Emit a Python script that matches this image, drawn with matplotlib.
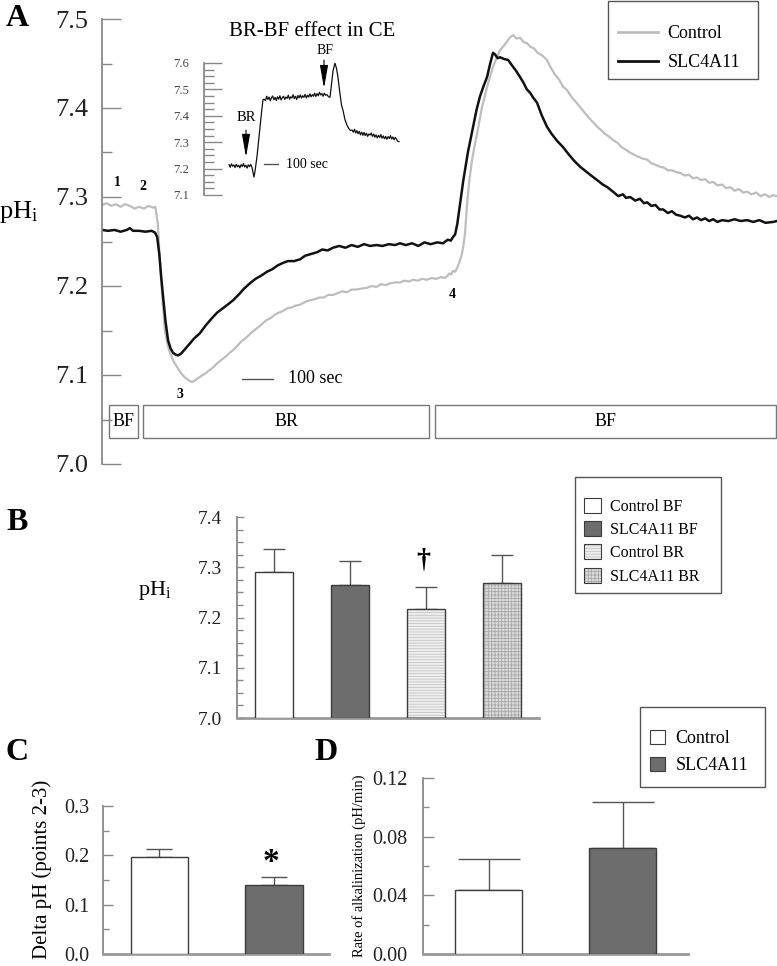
import numpy as np
import matplotlib
matplotlib.use("Agg")
import matplotlib.pyplot as plt
from matplotlib.patches import Rectangle, Patch
from matplotlib.lines import Line2D
from matplotlib.legend_handler import HandlerTuple
from matplotlib.ticker import MultipleLocator, FormatStrFormatter

plt.rcParams["font.family"] = "Liberation Serif"
plt.rcParams["mathtext.fontset"] = "custom"
plt.rcParams["mathtext.rm"] = "Liberation Serif"
plt.rcParams["mathtext.it"] = "Liberation Serif:italic"
plt.rcParams["hatch.linewidth"] = 0.6

W, H = 777, 966

# ---- panel A : pHi traces (time in s) ----
ctrl_t = [0, 15, 30, 45, 60, 75, 90, 105, 120, 135, 150, 165, 172, 180, 188, 196, 203, 211, 219, 230,
          242, 255, 268, 280, 290, 300, 316, 330, 345, 360, 371, 385, 400, 412, 423, 437, 450, 465, 477,
          490, 505, 518, 532, 545, 558, 570, 584, 598, 612, 625, 639, 655, 670, 685, 700, 715, 730, 745,
          760, 775, 790, 805, 820, 835, 855, 870, 885, 900, 915, 930, 945, 961, 975, 990, 1003, 1018,
          1033, 1048, 1063, 1078, 1093, 1105, 1113, 1120, 1126, 1132, 1139, 1145, 1152, 1160, 1166, 1171,
          1177, 1185, 1195, 1210, 1225, 1242, 1252, 1261, 1272, 1284, 1296, 1305, 1315, 1326, 1337, 1348,
          1360, 1370, 1381, 1393, 1405, 1420, 1435, 1448, 1460, 1474, 1487, 1500, 1515, 1528, 1542, 1556,
          1570, 1584, 1597, 1610, 1622, 1635, 1648, 1662, 1676, 1690, 1703, 1718, 1732, 1745, 1758, 1772,
          1786, 1800, 1812, 1825, 1838, 1852, 1865, 1880, 1893, 1906, 1919, 1932, 1945, 1958, 1971, 1985,
          2000, 2013, 2027, 2040, 2054, 2068, 2081, 2095, 2110, 2124, 2138, 2152, 2165, 2177]
ctrl_ph = [7.291, 7.293, 7.290, 7.292, 7.289, 7.292, 7.290, 7.287, 7.289, 7.287, 7.290, 7.288, 7.289,
           7.270, 7.220, 7.180, 7.150, 7.135, 7.125, 7.116, 7.109, 7.102, 7.097, 7.094, 7.092, 7.094,
           7.098, 7.101, 7.105, 7.109, 7.113, 7.117, 7.121, 7.125, 7.128, 7.133, 7.138, 7.142, 7.146,
           7.150, 7.154, 7.158, 7.162, 7.164, 7.168, 7.170, 7.172, 7.175, 7.176, 7.178, 7.179, 7.182,
           7.184, 7.185, 7.187, 7.187, 7.190, 7.190, 7.192, 7.194, 7.193, 7.196, 7.196, 7.197, 7.198,
           7.200, 7.199, 7.202, 7.201, 7.203, 7.204, 7.204, 7.206, 7.205, 7.207, 7.206, 7.208, 7.207,
           7.209, 7.208, 7.210, 7.209, 7.211, 7.214, 7.213, 7.217, 7.216, 7.220, 7.226, 7.235, 7.246,
           7.260, 7.290, 7.320, 7.345, 7.372, 7.400, 7.424, 7.436, 7.446, 7.456, 7.465, 7.470, 7.474,
           7.479, 7.482, 7.478, 7.479, 7.474, 7.473, 7.469, 7.467, 7.462, 7.459, 7.454, 7.445, 7.438,
           7.432, 7.424, 7.420, 7.412, 7.407, 7.401, 7.395, 7.389, 7.384, 7.379, 7.375, 7.371, 7.368,
           7.364, 7.361, 7.356, 7.353, 7.350, 7.347, 7.345, 7.343, 7.342, 7.338, 7.336, 7.334, 7.333,
           7.330, 7.330, 7.328, 7.327, 7.324, 7.325, 7.321, 7.322, 7.319, 7.320, 7.316, 7.317, 7.313,
           7.314, 7.310, 7.311, 7.307, 7.309, 7.305, 7.306, 7.303, 7.305, 7.301, 7.303, 7.300, 7.302,
           7.301]

slc_t = [0, 20, 40, 60, 80, 90, 100, 120, 140, 160, 171, 178, 185, 191, 197, 205, 213, 221, 229, 237,
         245, 255, 265, 280, 297, 316, 335, 355, 371, 390, 405, 423, 440, 458, 477, 495, 515, 532, 550,
         566, 584, 600, 620, 639, 655, 675, 694, 710, 728, 745, 765, 785, 805, 825, 845, 865, 885, 905,
         925, 945, 961, 980, 1000, 1020, 1040, 1060, 1081, 1100, 1115, 1125, 1132, 1139, 1146, 1152,
         1158, 1165, 1180, 1197, 1208, 1219, 1230, 1242, 1252, 1261, 1268, 1276, 1284, 1297, 1310, 1322,
         1335, 1348, 1360, 1370, 1381, 1392, 1403, 1418, 1435, 1450, 1468, 1487, 1505, 1522, 1542, 1560,
         1578, 1597, 1615, 1630, 1648, 1665, 1680, 1690, 1703, 1720, 1735, 1748, 1758, 1772, 1785, 1798,
         1810, 1825, 1838, 1852, 1865, 1880, 1893, 1906, 1919, 1932, 1945, 1958, 1971, 1985, 2000, 2020,
         2040, 2060, 2081, 2100, 2120, 2140, 2165, 2177]
slc_ph = [7.263, 7.262, 7.263, 7.261, 7.263, 7.265, 7.262, 7.262, 7.261, 7.262, 7.260, 7.255, 7.235,
          7.210, 7.188, 7.160, 7.139, 7.130, 7.125, 7.123, 7.122, 7.124, 7.128, 7.134, 7.141, 7.147,
          7.156, 7.164, 7.170, 7.175, 7.179, 7.184, 7.190, 7.197, 7.203, 7.208, 7.212, 7.216, 7.219,
          7.223, 7.226, 7.228, 7.228, 7.230, 7.234, 7.236, 7.238, 7.241, 7.240, 7.243, 7.245, 7.243,
          7.246, 7.244, 7.247, 7.245, 7.246, 7.245, 7.247, 7.246, 7.248, 7.246, 7.248, 7.245, 7.249,
          7.247, 7.249, 7.248, 7.252, 7.251, 7.255, 7.258, 7.270, 7.285, 7.300, 7.318, 7.350, 7.379,
          7.398, 7.413, 7.424, 7.435, 7.450, 7.462, 7.460, 7.456, 7.457, 7.455, 7.454, 7.448, 7.442,
          7.435, 7.428, 7.421, 7.417, 7.411, 7.406, 7.392, 7.379, 7.371, 7.363, 7.356, 7.348, 7.341,
          7.334, 7.329, 7.324, 7.319, 7.314, 7.311, 7.306, 7.301, 7.303, 7.299, 7.300, 7.296, 7.298,
          7.293, 7.294, 7.290, 7.291, 7.286, 7.286, 7.282, 7.284, 7.280, 7.279, 7.277, 7.279, 7.275,
          7.277, 7.274, 7.276, 7.273, 7.275, 7.272, 7.274, 7.273, 7.275, 7.273, 7.274, 7.272, 7.274,
          7.271, 7.272, 7.273]

# solution periods under the traces (start, end, label)
periods = [(23, 116, "BF"), (132, 1055, "BR"), (1074, 2174, "BF")]

# ---- inset : BR-BF effect in CE ----
ce_t = [167, 175, 183, 191, 199, 207, 215, 223, 231, 239, 247, 255, 263, 271, 279, 287, 295, 303, 311,
        320, 327, 333, 340, 353, 363, 373, 383, 393, 400, 410, 418, 426, 434, 442, 450, 458, 466, 474,
        482, 490, 498, 506, 514, 522, 530, 538, 546, 554, 562, 570, 578, 586, 594, 602, 610, 618, 626,
        634, 642, 650, 658, 666, 674, 682, 690, 698, 706, 714, 722, 730, 738, 746, 754, 762, 770, 778,
        786, 794, 802, 810, 820, 830, 840, 850, 860, 873, 883, 893, 905, 917, 927, 940, 953, 965, 975,
        987, 995, 1003, 1011, 1019, 1027, 1035, 1043, 1051, 1059, 1067, 1075, 1083, 1091, 1099, 1107,
        1115, 1123, 1131, 1139, 1147, 1155, 1163, 1171, 1179, 1187, 1195, 1203, 1211, 1219, 1227, 1235,
        1243, 1251, 1259, 1267, 1275, 1283, 1291, 1300]
ce_ph = [7.215, 7.205, 7.218, 7.209, 7.214, 7.204, 7.216, 7.207, 7.213, 7.203, 7.215, 7.208, 7.219,
         7.206, 7.213, 7.202, 7.214, 7.207, 7.216, 7.205, 7.185, 7.168, 7.190, 7.244, 7.300, 7.358,
         7.410, 7.460, 7.463, 7.458, 7.474, 7.462, 7.471, 7.457, 7.469, 7.475, 7.461, 7.470, 7.458,
         7.472, 7.463, 7.476, 7.460, 7.469, 7.474, 7.462, 7.471, 7.466, 7.478, 7.463, 7.472, 7.467,
         7.480, 7.465, 7.474, 7.462, 7.477, 7.468, 7.479, 7.467, 7.476, 7.470, 7.481, 7.468, 7.478,
         7.471, 7.483, 7.472, 7.480, 7.474, 7.486, 7.473, 7.484, 7.476, 7.489, 7.479, 7.484, 7.474,
         7.486, 7.478, 7.480, 7.472, 7.470, 7.520, 7.570, 7.600, 7.580, 7.547, 7.490, 7.440, 7.420,
         7.385, 7.365, 7.352, 7.345, 7.346, 7.338, 7.349, 7.335, 7.344, 7.332, 7.341, 7.328, 7.338,
         7.326, 7.337, 7.325, 7.334, 7.322, 7.331, 7.327, 7.335, 7.322, 7.331, 7.319, 7.328, 7.316,
         7.326, 7.318, 7.329, 7.315, 7.324, 7.313, 7.322, 7.311, 7.321, 7.314, 7.325, 7.312, 7.320,
         7.309, 7.318, 7.312, 7.304, 7.302]

# ---- panel B ----
b_labels = ["Control BF", "SLC4A11 BF", "Control BR", "SLC4A11 BR"]
b_mean = [7.291, 7.265, 7.217, 7.269]
b_err = [0.045, 0.047, 0.044, 0.055]

# ---- panels C, D ----
cd_labels = ["Control", "SLC4A11"]
c_mean = [0.197, 0.140]
c_err = [0.015, 0.016]
d_mean = [0.0437, 0.0726]
d_err = [0.0208, 0.0309]

GRAY_LINE = "#bdbdbd"
DARK_BAR = "#6d6d6d"
SPINE = "#888888"
EDGE = "#3c3c3c"

fig = plt.figure(figsize=(W / 100, H / 100), dpi=100)


def px_ax(l, t, r, b):
    return fig.add_axes([l / W, 1 - b / H, (r - l) / W, (b - t) / H])


def ftext(x, y, s, **kw):
    kw.setdefault("ha", "center")
    kw.setdefault("va", "center")
    return fig.text(x / W, 1 - y / H, s, **kw)


def frame_box(l, t, r, b):
    fig.add_artist(Rectangle((l / W, 1 - b / H), (r - l) / W, (b - t) / H, transform=fig.transFigure,
                             fill=False, edgecolor="#555555", lw=1.0))


def style_left(ax, major, minor, fmt, lsize, maj_len, min_len, pad):
    for s in ["top", "right", "bottom"]:
        ax.spines[s].set_visible(False)
    ax.spines["left"].set_color(SPINE)
    ax.spines["left"].set_linewidth(1.3)
    ax.yaxis.set_major_locator(MultipleLocator(major))
    ax.yaxis.set_minor_locator(MultipleLocator(minor))
    ax.yaxis.set_major_formatter(FormatStrFormatter(fmt))
    ax.tick_params(axis="y", which="major", direction="in", length=maj_len, width=1,
                   color=SPINE, pad=pad, labelsize=lsize, labelcolor="#222222")
    ax.tick_params(axis="y", which="minor", direction="in", length=min_len, width=1, color=SPINE)
    ax.set_xticks([])


# ================= panel A =================
axA = px_ax(102, 19, 777, 464)
axA.set_xlim(0, 2177)
axA.set_ylim(7.0, 7.5)
style_left(axA, 0.1, 0.05, "%.1f", 19, 14, 7, 10)
axA.plot(ctrl_t, ctrl_ph, color=GRAY_LINE, lw=1.6, label="Control")
axA.plot(slc_t, slc_ph, color="#111111", lw=1.8, label="SLC4A11")

for t0, t1, lab in periods:
    axA.add_patch(Rectangle((t0, 7.0292), t1 - t0, 0.0371, facecolor="white",
                            edgecolor="#777777", lw=1.0, clip_on=False))
    axA.text((t0 + t1) / 2, 7.0477, lab, ha="center", va="center", fontsize=13)

# 100 s scale bar
axA.plot([452, 552], [7.096, 7.096], color="#555555", lw=1)
axA.text(600, 7.096, "100 sec", ha="left", va="center", fontsize=13)

frame_box(608, 1, 758, 79)
legA = axA.legend(loc="upper left", bbox_to_anchor=(618 / W, 1 - 25 / H), bbox_transform=fig.transFigure,
                  fontsize=13, frameon=False, handlelength=2.2, handletextpad=0.55, borderpad=0,
                  labelspacing=0.68, borderaxespad=0)
for ln in legA.get_lines():
    ln.set_linewidth(2)

ftext(17, 18, "A", fontsize=23, fontweight="bold")
ftext(19, 212, r"$\mathrm{pH_i}$", fontsize=19)
ftext(117, 182, "1", fontsize=10, fontweight="bold")
ftext(143, 186, "2", fontsize=10, fontweight="bold")
ftext(180, 395, "3", fontsize=10, fontweight="bold")
ftext(452, 295, "4", fontsize=10, fontweight="bold")

# inset
axI = px_ax(204, 63, 402, 195)
axI.set_xlim(0, 1320)
axI.set_ylim(7.1, 7.6)
style_left(axI, 0.1, 0.025, "%.1f", 9, 13, 7, 11)
axI.tick_params(axis="y", which="major", labelcolor="#444444")
axI.patch.set_alpha(0)
axI.plot(ce_t, ce_ph, color="#111111", lw=0.9)
arrow = dict(arrowstyle="-|>,head_length=1.4,head_width=0.25", color="black", lw=0.8, shrinkA=0, shrinkB=0)
axI.annotate("", xy=(280, 7.244), xytext=(280, 7.346), arrowprops=arrow)
axI.annotate("", xy=(800, 7.505), xytext=(800, 7.611), arrowprops=arrow, annotation_clip=False)
axI.text(280, 7.395, "BR", ha="center", va="center", fontsize=10.5)
axI.text(810, 7.649, "BF", ha="center", va="center", fontsize=10, clip_on=False)
axI.plot([400, 493], [7.217, 7.217], color="#555555", lw=1)
axI.text(547, 7.217, "100 sec", ha="left", va="center", fontsize=10)
ftext(312, 31, "BR-BF effect in CE", fontsize=15)


def draw_bars(ax, xs, means, errs, faces, hatches, hcolors, bottom, width, capsize):
    heights = [m - bottom for m in means]
    for x, h, fc, hc, hcol in zip(xs, heights, faces, hatches, hcolors):
        if hc:
            ax.bar(x, h, width, bottom=bottom, color=fc, edgecolor=hcol, hatch=hc, lw=0, zorder=2)
            ax.bar(x, h, width, bottom=bottom, fill=False, edgecolor=EDGE, lw=1, zorder=3)
        else:
            ax.bar(x, h, width, bottom=bottom, color=fc, edgecolor=EDGE, lw=1, zorder=3)
    ax.errorbar(xs, means, yerr=[np.zeros(len(errs)), errs], fmt="none", ecolor="#555555",
                elinewidth=1, capsize=capsize, capthick=1, zorder=1)
    ax.spines["bottom"].set_visible(True)
    ax.spines["bottom"].set_color("#999999")
    ax.spines["bottom"].set_linewidth(2)


# ================= panel B =================
axB = px_ax(237, 517, 539, 718)
axB.set_ylim(7.0, 7.4)
axB.set_xlim(-0.487, 3.487)
style_left(axB, 0.1, 0.025, "%.1f", 14, 5, 4, 11)
b_faces = ["white", DARK_BAR, "#eeeeee", "#dcdcdc"]
b_hatch = [None, None, "------", "+++++"]
b_hcol = [None, None, "#c4c4c4", "#a8a8a8"]
draw_bars(axB, np.arange(4), b_mean, b_err, b_faces, b_hatch, b_hcol, 7.0, 0.5, 8)
axB.set_xticks([])
ftext(423, 560, "\u2020", fontsize=20, fontweight="bold")
ftext(17, 523, "B", fontsize=23, fontweight="bold")
ftext(155, 590, r"$\mathrm{pH_i}$", fontsize=16)

b_handles = []
for fc, hc, hcol in zip(b_faces, b_hatch, b_hcol):
    if hc:
        b_handles.append((Patch(facecolor=fc, edgecolor=hcol, hatch=hc, lw=0),
                          Patch(fill=False, edgecolor=EDGE, lw=0.8)))
    else:
        b_handles.append(Patch(facecolor=fc, edgecolor=EDGE, lw=0.8))
frame_box(575, 477, 721, 593)
fig.legend(b_handles, b_labels, loc="upper left", bbox_to_anchor=(584 / W, 1 - 498 / H),
           fontsize=11.5, frameon=False, handlelength=1.05, handleheight=1.05, handletextpad=0.6,
           borderpad=0, labelspacing=0.4, borderaxespad=0,
           handler_map={tuple: HandlerTuple(ndivide=1, pad=0)})

# ================= panel C =================
cd_faces = ["white", DARK_BAR]
axC = px_ax(103, 806, 329, 954)
axC.set_ylim(0, 0.3)
axC.set_xlim(-0.493, 1.48)
style_left(axC, 0.1, 0.05, "%.1f", 14.5, 7, 4, 10)
draw_bars(axC, np.arange(2), c_mean, c_err, cd_faces, [None, None], [None, None], 0, 0.5, 9.7)
axC.set_xticks([])
ftext(271, 862, "*", fontsize=24, fontweight="bold")
ftext(17, 753, "C", fontsize=23, fontweight="bold")
ftext(42, 869, "Delta pH (points 2-3)", fontsize=15, rotation=90)

# ================= panel D =================
axD = px_ax(423, 778, 688, 954)
axD.set_ylim(0, 0.12)
axD.set_xlim(-0.49, 1.487)
style_left(axD, 0.04, 0.02, "%.2f", 14.5, 8, 4, 11)
draw_bars(axD, np.arange(2), d_mean, d_err, cd_faces, [None, None], [None, None], 0, 0.5, 22)
axD.set_xticks([])
ftext(326, 753, "D", fontsize=23, fontweight="bold")
ftext(359, 866, "Rate of alkalinization (pH/min)", fontsize=10.5, rotation=90)

cd_handles = [Patch(facecolor=fc, edgecolor=EDGE, lw=0.8) for fc in cd_faces]
frame_box(640, 707, 765, 787)
fig.legend(cd_handles, cd_labels, loc="upper left", bbox_to_anchor=(650 / W, 1 - 730 / H),
           fontsize=13, frameon=False, handlelength=0.85, handleheight=0.85, handletextpad=0.55,
           borderpad=0, labelspacing=0.52, borderaxespad=0)

fig.savefig("out.png", dpi=100)
